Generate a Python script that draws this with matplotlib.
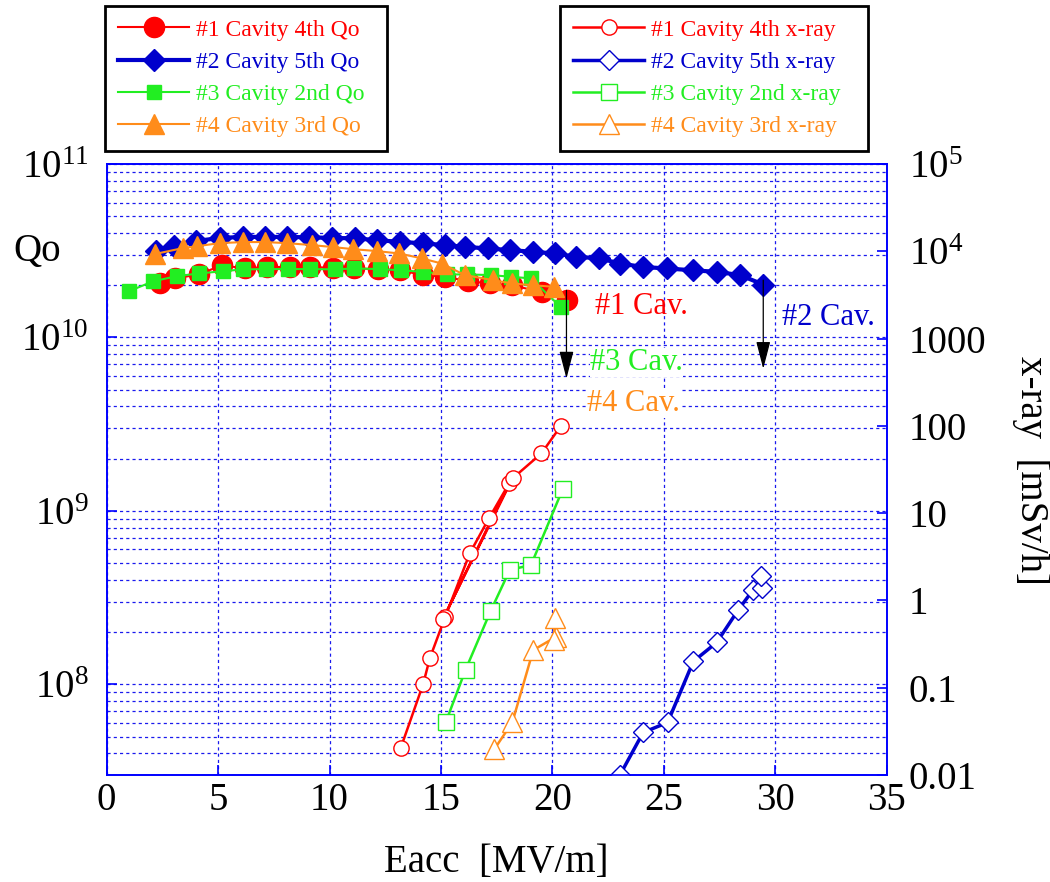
import numpy as np
import matplotlib
matplotlib.use("Agg")
import matplotlib.pyplot as plt
from matplotlib.ticker import LogLocator, FixedLocator, FixedFormatter, NullFormatter

plt.rcParams['font.family'] = 'serif'
plt.rcParams['font.serif'] = ['Liberation Serif']
plt.rcParams['mathtext.fontset'] = 'custom'
plt.rcParams['mathtext.rm'] = 'Liberation Serif'
plt.rcParams['mathtext.it'] = 'Liberation Serif:italic'

# Qo data (left axis)
qo1_x = [2.39, 3.06, 4.15, 5.16, 6.2, 7.18, 8.22, 9.12, 10.17, 11.1, 12.19, 13.16, 14.2, 15.18, 16.22, 17.2, 18.17, 19.52, 20.64]
qo1_y = [2.05e10, 2.19e10, 2.31e10, 2.61e10, 2.50e10, 2.55e10, 2.55e10, 2.55e10, 2.52e10, 2.50e10, 2.48e10, 2.44e10,
         2.29e10, 2.24e10, 2.11e10, 2.05e10, 2.00e10, 1.83e10, 1.64e10]
qo2_x = [2.2, 3.0, 4.0, 5.1, 6.1, 7.1, 8.1, 9.1, 10.1, 11.15, 12.11, 13.16, 14.2, 15.18, 16.08, 17.12, 18.09, 19.14,
         20.11, 21.08, 22.1, 23.03, 24.07, 25.12, 26.32, 27.37, 28.41, 29.46]
qo2_y = [3.15e10, 3.35e10, 3.6e10, 3.75e10, 3.8e10, 3.8e10, 3.8e10, 3.78e10, 3.75e10, 3.73e10, 3.64e10, 3.56e10,
         3.49e10, 3.41e10, 3.33e10, 3.26e10, 3.19e10, 3.12e10, 3.05e10, 2.92e10, 2.86e10, 2.67e10, 2.55e10, 2.50e10,
         2.44e10, 2.39e10, 2.29e10, 2.02e10]
qo3_x = [1.01, 2.09, 3.17, 4.15, 5.2, 6.13, 7.13, 8.12, 9.12, 10.24, 11.1, 12.26, 13.19, 14.2, 15.25, 16.15, 17.23,
         18.14, 19.04, 20.37]
qo3_y = [1.85e10, 2.11e10, 2.26e10, 2.34e10, 2.41e10, 2.47e10, 2.48e10, 2.48e10, 2.48e10, 2.47e10, 2.50e10, 2.48e10,
         2.44e10, 2.39e10, 2.31e10, 2.31e10, 2.29e10, 2.24e10, 2.19e10, 1.50e10]
qo4_x = [2.17, 3.44, 4.04, 5.08, 6.13, 7.1, 8.08, 9.2, 10.17, 11.06, 12.11, 13.13, 14.13, 15.03, 16.07, 17.34, 18.17,
         19.14, 20.07]
qo4_y = [3.03e10, 3.28e10, 3.36e10, 3.50e10, 3.55e10, 3.55e10, 3.50e10, 3.41e10, 3.32e10, 3.23e10, 3.15e10, 3.05e10,
         2.86e10, 2.67e10, 2.29e10, 2.14e10, 2.05e10, 2.00e10, 1.96e10]

# x-ray data (right axis, mSv/h)
xr1_x = [13.19, 14.2, 14.5, 15.18, 16.3, 17.17, 18.06, 15.1, 18.21, 19.51, 20.38]
xr1_y = [0.0203, 0.110, 0.218, 0.64, 3.5, 8.9, 22.0, 0.62, 25.0, 48.5, 100.0]
xr2_x = [23.03, 24.07, 25.17, 26.32, 27.37, 28.34, 29.0, 29.39, 29.35]
xr2_y = [0.01, 0.0307, 0.040, 0.20, 0.33, 0.78, 1.32, 1.38, 1.9]
xr3_x = [15.21, 16.1, 17.23, 18.09, 19.04, 20.46]
xr3_y = [0.040, 0.16, 0.76, 2.24, 2.55, 18.8]
xr4_x = [17.39, 18.2, 19.14, 20.14, 20.07, 20.11]
xr4_y = [0.0197, 0.040, 0.27, 0.38, 0.353, 0.625]

red = '#ff0000'
blue = '#0000cc'
green = '#22ee22'
orange = '#ff8c1a'
gridc = '#1a1aee'

fig = plt.figure(figsize=(10.5, 8.82), dpi=100)
ax = fig.add_axes([0.1016, 0.1213, 0.7429, 0.6927])
ax2 = ax.twinx()

# Qo
l1, = ax.plot(qo1_x, qo1_y, color=red, lw=1.5, marker='o', ms=14.5, mec=red, mfc=red,
              label='#1 Cavity 4th Qo', zorder=3)
l2, = ax.plot(qo2_x, qo2_y, color=blue, lw=3, marker='D', ms=11, mec=blue, mfc=blue,
              label='#2 Cavity 5th Qo', zorder=3)
l3, = ax.plot(qo3_x, qo3_y, color=green, lw=1.5, marker='s', ms=10, mec=green, mfc=green,
              label='#3 Cavity 2nd Qo', zorder=4)
l4, = ax.plot(qo4_x, qo4_y, color=orange, lw=1.5, marker='^', ms=14, mec=orange, mfc=orange,
              label='#4 Cavity 3rd Qo', zorder=4)

# x-ray
m1, = ax2.plot(xr1_x, xr1_y, color=red, lw=1.8, marker='o', ms=11, mec=red, mfc='white', mew=1,
               label='#1 Cavity 4th x-ray')
m2, = ax2.plot(xr2_x, xr2_y, color=blue, lw=2.5, marker='D', ms=10, mec=blue, mfc='white', mew=1,
               label='#2 Cavity 5th x-ray')
m3, = ax2.plot(xr3_x, xr3_y, color=green, lw=1.8, marker='s', ms=12, mec=green, mfc='white', mew=1,
               label='#3 Cavity 2nd x-ray')
m4, = ax2.plot(xr4_x, xr4_y, color=orange, lw=1.8, marker='^', ms=14, mec=orange, mfc='white', mew=1,
               label='#4 Cavity 3rd x-ray')

ax.set_xlim(0, 35)
ax.set_yscale('log')
ax.set_ylim(3e7, 1e11)
ax2.set_yscale('log')
ax2.set_ylim(0.01, 1e5)

ax.set_xticks(range(0, 36, 5))
ax.yaxis.set_major_locator(FixedLocator([1e8, 1e9, 1e10, 1e11]))
ax.yaxis.set_major_formatter(FixedFormatter([r'$10^{8}$', r'$10^{9}$', r'$10^{10}$', r'$10^{11}$']))
ax.yaxis.set_minor_locator(LogLocator(base=10, subs=np.arange(2, 10), numticks=20))
ax.yaxis.set_minor_formatter(NullFormatter())

r_ticks = [0.01, 0.1, 1, 10, 100, 1000, 1e4, 1e5]
ax2.yaxis.set_major_locator(FixedLocator(r_ticks))
ax2.yaxis.set_major_formatter(FixedFormatter(['0.01', '0.1', '1', '10', '100', '1000', r'$10^{4}$', r'$10^{5}$']))
ax2.yaxis.set_minor_locator(FixedLocator([]))

ax.grid(True, which='both', axis='y', color=gridc, lw=0.9, ls=(0, (2.5, 2.5)))
ax.grid(True, which='major', axis='x', color=gridc, lw=0.9, ls=(0, (2.5, 2.5)))
ax.set_axisbelow(True)

for a in (ax, ax2):
    for s in a.spines.values():
        s.set_color('#0000ff')
        s.set_linewidth(1.2)

ax.tick_params(axis='both', which='major', direction='in', color='#0000ff', length=7, width=1.2,
               labelsize=28, labelcolor='black')
ax.tick_params(axis='y', which='major', pad=13, right=False)
ax.tick_params(axis='x', which='major', pad=5, top=False)
ax.tick_params(axis='y', which='minor', length=0)
ax2.tick_params(axis='y', which='major', direction='in', color='#0000ff', length=7, width=1.2,
                labelsize=28, labelcolor='black', pad=16)

ax.set_xlabel('Eacc  [MV/m]', fontsize=28, labelpad=18)
fig.text(0.035, 0.715, 'Qo', fontsize=28, ha='center', va='center')
fig.text(0.982, 0.467, 'x-ray  [mSv/h]', fontsize=28, ha='center', va='center', rotation=270)

# arrows and labels
arrow_kw = dict(arrowstyle='-|>,head_length=0.85,head_width=0.22', color='black', lw=0.9, mutation_scale=20,
                shrinkA=0, shrinkB=0)
ax.annotate('', xy=(20.63, 5.8e9), xytext=(20.63, 1.87e10), arrowprops=arrow_kw, zorder=6)
ax.annotate('', xy=(29.46, 6.6e9), xytext=(29.46, 2.14e10), arrowprops=arrow_kw, zorder=6)

ax.text(21.9, 1.50e10, '#1 Cav.', color=red, fontsize=22, va='center', ha='left')
ax.text(21.68, 7.2e9, '#3 Cav.', color=green, fontsize=22, va='center', ha='left',
        bbox=dict(facecolor='white', edgecolor='none', pad=0))
ax.text(21.55, 4.18e9, '#4 Cav.', color=orange, fontsize=22, va='center', ha='left',
        bbox=dict(facecolor='white', edgecolor='none', pad=0))
ax.text(30.28, 1.31e10, '#2 Cav.', color=blue, fontsize=22, va='center', ha='left')

# legends
leg_kw = dict(loc='upper left', mode='expand', bbox_transform=fig.transFigure, fontsize=17, numpoints=1,
              handlelength=3.0, handletextpad=0.3, labelspacing=0.45, borderpad=0.57, fancybox=False,
              framealpha=1, edgecolor='black', labelcolor='linecolor', borderaxespad=0)
leg1 = fig.legend(handles=[l1, l2, l3, l4], bbox_to_anchor=(0.1, 0.0, 0.2686, 0.9935), **leg_kw)
leg2 = fig.legend(handles=[m1, m2, m3, m4], bbox_to_anchor=(0.5333, 0.0, 0.2933, 0.9935), **leg_kw)
for lg in (leg1, leg2):
    lg.get_frame().set_linewidth(2)

fig.savefig('out.png', dpi=100)
